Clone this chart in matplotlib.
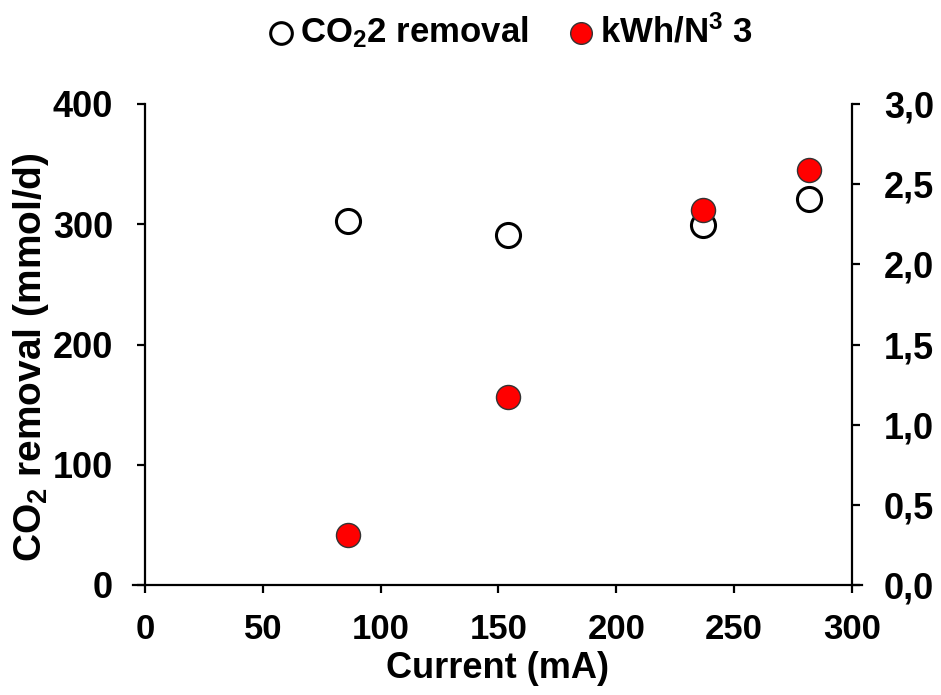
import matplotlib
matplotlib.use('Agg')
import matplotlib.pyplot as plt
from matplotlib.ticker import FuncFormatter

plt.rcParams['font.family'] = ['Liberation Sans', 'DejaVu Sans']
plt.rcParams['font.weight'] = 'bold'
plt.rcParams['mathtext.fontset'] = 'custom'
plt.rcParams['mathtext.rm'] = 'Liberation Sans'
plt.rcParams['mathtext.bf'] = 'Liberation Sans:bold'
plt.rcParams['mathtext.default'] = 'bf'

# data
current = [86, 154, 237, 282]
co2_removal = [303, 291, 299, 321]
energy = [0.31, 1.17, 2.34, 2.59]

fig = plt.figure(figsize=(9.41, 6.95), dpi=100)
ax = fig.add_axes([133/941, 1-585/695, (862-133)/941, (585-104)/695])
ax2 = ax.twinx()

s1 = ax.scatter(current, co2_removal, s=300, facecolors='white', edgecolors='black',
                linewidths=2.2, zorder=3, label='CO$_2$2 removal')
s2 = ax2.scatter(current, energy, s=300, facecolors='#ff0000', edgecolors='#333333',
                 linewidths=1.0, zorder=4, label='kWh/N$^3$ 3')

ax.set_xlim(-5.1, 304.3)
ax.set_ylim(0, 400)
ax2.set_ylim(0, 3.0)
ax.set_xticks(range(0, 301, 50))
ax.set_yticks(range(0, 401, 100))
ax2.set_yticks([0, 0.5, 1.0, 1.5, 2.0, 2.5, 3.0])
ax2.yaxis.set_major_formatter(FuncFormatter(lambda v, p: '{:.1f}'.format(v).replace('.', ',')))

for a in (ax, ax2):
    a.spines['top'].set_visible(False)
    a.spines['left'].set_position(('data', 0))
    a.spines['right'].set_position(('data', 300))
    for sp in a.spines.values():
        sp.set_linewidth(1.6)
    a.tick_params(width=1.6, length=6, labelsize=25)
ax.tick_params(axis='y', labelsize=26, pad=17)
ax.tick_params(axis='x', pad=14)
ax2.tick_params(axis='y', labelsize=26, pad=17)
ax2.spines['left'].set_visible(False)
ax2.spines['bottom'].set_visible(False)
ax.spines['right'].set_visible(False)

ax.set_xlabel('Current (mA)', fontsize=26, fontweight='bold', labelpad=4)
ax.set_ylabel('CO$_{\\mathregular{2}}$ removal (mmol/d)', fontsize=28, fontweight='bold')
ax.yaxis.set_label_coords(-0.113, 0.474)

fig.legend(handles=[s1, s2], loc='upper center', bbox_to_anchor=(0.54, 1.025), ncol=2,
           frameon=False, fontsize=25, handlelength=1.0, handletextpad=0.05,
           columnspacing=1.0, markerscale=0.9)

fig.savefig('out.png', dpi=100)
